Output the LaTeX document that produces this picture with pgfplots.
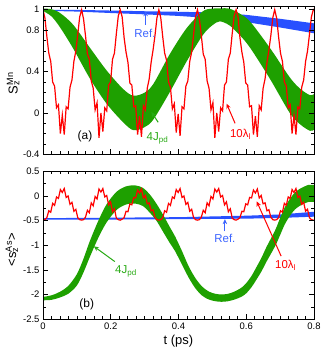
\documentclass[border=0pt]{standalone}
\usepackage{pgfplots}
\pgfplotsset{compat=1.18}
\usepgfplotslibrary{fillbetween}
\usepackage{pgfplotstable}
\usetikzlibrary{arrows.meta}
\usepackage{fontspec}
\setmainfont{Liberation Sans}
\setsansfont{Liberation Sans}
\definecolor{rred}{RGB}{255,0,0}
\definecolor{rgreen}{RGB}{30,160,0}
\definecolor{rblue}{RGB}{40,80,255}
\definecolor{lblue}{RGB}{60,100,255}
\definecolor{lgreen}{RGB}{40,170,20}

% red curves: t, top panel (a), bottom panel (b)
\pgfplotstableread{
t a b
0 1.00 -0.49
0.0057 0.92 -0.48
0.0114 0.74 -0.44
0.0171 0.58 -0.30
0.0228 0.50 -0.33
0.0285 0.30 -0.15
0.0342 0.26 -0.19
0.0399 0.05 -0.02
0.0456 0.08 -0.05
0.0513 -0.20 0.13
0.057 -0.02 0.07
0.0627 -0.21 0.15
0.0684 0.06 -0.03
0.0741 0.04 0.00
0.0798 0.25 -0.17
0.0855 0.32 -0.13
0.0912 0.50 -0.31
0.0969 0.60 -0.27
0.1026 0.76 -0.44
0.1083 0.93 -0.48
0.114 1.00 -0.49
0.1197 0.91 -0.48
0.1254 0.75 -0.43
0.1311 0.57 -0.29
0.1368 0.52 -0.34
0.1425 0.31 -0.14
0.1482 0.24 -0.20
0.1539 0.03 -0.01
0.1596 0.10 -0.06
0.1653 -0.24 0.14
0.171 0.00 0.08
0.1767 -0.18 0.15
0.1824 0.05 -0.02
0.1881 0.02 0.01
0.1938 0.27 -0.18
0.1995 0.30 -0.12
0.2052 0.52 -0.32
0.2109 0.58 -0.26
0.2166 0.77 -0.45
0.2223 0.94 -0.48
0.228 1.00 -0.49
0.2337 0.93 -0.47
0.2394 0.73 -0.44
0.2451 0.59 -0.31
0.2508 0.49 -0.32
0.2565 0.29 -0.16
0.2622 0.27 -0.18
0.2679 0.06 -0.03
0.2736 0.07 -0.04
0.2793 -0.21 0.12
0.285 -0.03 0.06
0.2907 -0.23 0.14
0.2964 0.07 -0.04
0.3021 0.03 0.01
0.3078 0.24 -0.16
0.3135 0.33 -0.14
0.3192 0.49 -0.30
0.3249 0.61 -0.28
0.3306 0.75 -0.43
0.3363 0.92 -0.48
0.342 1.00 -0.49
0.3477 0.92 -0.48
0.3534 0.74 -0.44
0.3591 0.58 -0.30
0.3648 0.51 -0.33
0.3705 0.30 -0.15
0.3762 0.25 -0.19
0.3819 0.04 -0.02
0.3876 0.09 -0.05
0.3933 -0.19 0.13
0.399 -0.01 0.07
0.4047 -0.22 0.15
0.4104 0.06 -0.03
0.4161 0.04 0.00
0.4218 0.26 -0.17
0.4275 0.31 -0.13
0.4332 0.50 -0.31
0.4389 0.59 -0.27
0.4446 0.76 -0.44
0.4503 0.93 -0.48
0.456 1.00 -0.49
0.4617 0.91 -0.48
0.4674 0.75 -0.43
0.4731 0.57 -0.29
0.4788 0.52 -0.34
0.4845 0.31 -0.14
0.4902 0.24 -0.20
0.4959 0.03 -0.01
0.5016 0.10 -0.06
0.5073 -0.24 0.14
0.513 0.00 0.08
0.5187 -0.18 0.15
0.5244 0.05 -0.02
0.5301 0.02 0.01
0.5358 0.27 -0.18
0.5415 0.30 -0.12
0.5472 0.52 -0.32
0.5529 0.58 -0.26
0.5586 0.77 -0.45
0.5643 0.94 -0.48
0.57 1.00 -0.49
0.5757 0.93 -0.47
0.5814 0.73 -0.44
0.5871 0.59 -0.31
0.5928 0.49 -0.32
0.5985 0.29 -0.16
0.6042 0.27 -0.18
0.6099 0.06 -0.03
0.6156 0.07 -0.04
0.6213 -0.21 0.12
0.627 -0.03 0.06
0.6327 -0.23 0.14
0.6384 0.07 -0.04
0.6441 0.03 0.01
0.6498 0.24 -0.16
0.6555 0.33 -0.14
0.6612 0.49 -0.30
0.6669 0.61 -0.28
0.6726 0.75 -0.43
0.6783 0.92 -0.48
0.684 1.00 -0.49
0.6897 0.92 -0.48
0.6954 0.74 -0.44
0.7011 0.58 -0.30
0.7068 0.50 -0.33
0.7125 0.30 -0.15
0.7182 0.26 -0.19
0.7239 0.05 -0.02
0.7296 0.08 -0.05
0.7353 -0.20 0.13
0.741 -0.02 0.07
0.7467 -0.21 0.15
0.7524 0.06 -0.03
0.7581 0.04 0.00
0.7638 0.25 -0.17
0.7695 0.32 -0.13
0.7752 0.50 -0.31
0.7809 0.60 -0.27
0.7866 0.76 -0.44
0.7923 0.93 -0.48
0.798 1.00 -0.49
0.8 0.99 -0.49
}\redtab

% green band, top panel: t, upper, lower
\pgfplotstableread{
t up lo
0.000 1.0115 0.9885
0.025 1.0045 0.9355
0.050 0.969 0.831
0.089 0.855 0.625
0.139 0.6295 0.3305
0.188 0.411 0.089
0.237 0.231 -0.091
0.267 0.167 -0.167
0.300 0.197 -0.137
0.326 0.2825 -0.0625
0.375 0.574 0.206
0.424 0.821 0.499
0.472 0.985 0.755
0.500 1.0105 0.8495
0.522 1.013 0.887
0.550 1.0105 0.8495
0.580 0.9635 0.7565
0.611 0.8865 0.6335
0.670 0.6295 0.3305
0.729 0.3425 -0.0025
0.760 0.2325 -0.1125
0.788 0.1725 -0.1725
0.800 0.1825 -0.1625
}\greentop

% green band, bottom panel
\pgfplotstableread{
t up lo
0.000 -2.0455 -2.1145
0.025 -2.014 -2.106
0.050 -1.9425 -2.0575
0.075 -1.8195 -1.9805
0.100 -1.585 -1.815
0.119 -1.282 -1.558
0.138 -0.919 -1.241
0.163 -0.5075 -0.8525
0.187 -0.176 -0.544
0.217 0.084 -0.284
0.245 0.194 -0.174
0.272 0.214 -0.154
0.295 0.164 -0.204
0.316 0.024 -0.344
0.335 -0.1575 -0.5025
0.355 -0.3875 -0.7325
0.375 -0.639 -0.961
0.390 -0.8205 -1.1195
0.410 -1.112 -1.388
0.430 -1.425 -1.655
0.450 -1.6665 -1.8735
0.470 -1.838 -2.022
0.490 -1.9395 -2.1005
0.510 -1.985 -2.135
0.527 -1.995 -2.145
0.545 -1.985 -2.135
0.565 -1.9395 -2.1005
0.586 -1.858 -2.042
0.600 -1.7665 -1.9735
0.616 -1.615 -1.845
0.630 -1.4435 -1.6965
0.645 -1.252 -1.528
0.660 -1.0305 -1.3295
0.685 -0.699 -1.021
0.700 -0.4475 -0.7925
0.714 -0.2275 -0.5725
0.730 -0.0475 -0.3925
0.744 0.0725 -0.2725
0.760 0.1525 -0.1925
0.783 0.2225 -0.1225
0.800 0.2225 -0.1225
}\greenbot

% blue (Ref.) bands
\pgfplotstableread{
t up lo
0.0 1.000 0.990
0.1 0.998 0.982
0.2 0.992 0.968
0.3 0.985 0.955
0.4 0.980 0.940
0.5 0.973 0.917
0.6 0.950 0.880
0.7 0.912 0.828
0.8 0.868 0.772
}\bluetop

\pgfplotstableread{
t up lo
0.0 -0.450 -0.480
0.2 -0.440 -0.478
0.4 -0.430 -0.470
0.6 -0.400 -0.460
0.7 -0.375 -0.445
0.8 -0.320 -0.420
}\bluebot

\pgfplotsset{
  myax/.style={
    scale only axis, width=271bp, height=148bp,
    xmin=0, xmax=0.8,
    tick align=inside, xtick pos=both, ytick pos=both,
    xticklabel pos=lower, yticklabel pos=left,
    major tick length=5bp, minor tick length=3bp,
    xtick={0,0.2,0.4,0.6,0.8}, minor x tick num=7,
    axis line style={line width=0.8bp},
    every tick/.style={black, line width=0.6bp},
    /pgf/number format/assume math mode=true,
    ticklabel style={font=\fontsize{9.5}{10}\selectfont},
    label style={font=\fontsize{13}{15}\selectfont},
    axis on top,
  },
}
\tikzset{
  annot/.style={font=\fontsize{11.5}{13}\selectfont},
  arr/.style={line width=1bp, -{Stealth[length=5bp,width=4.5bp]}},
}

\begin{document}
\begin{tikzpicture}
\begin{axis}[myax, at={(0,0)}, anchor=north west,
  ymin=-0.4, ymax=1.033,
  ytick={-0.4,0,0.4,0.8,1},
  minor ytick={-0.3,-0.2,-0.1,0.1,0.2,0.3,0.5,0.6,0.7,0.9},
  xticklabel=\empty,
  ylabel={S\rlap{\textsubscript{z}}\textsuperscript{Mn}},
  ylabel style={at={(axis description cs:-0.11,0.48)}, anchor=center},
]
\addplot[draw=none, name path=bu] table[x=t, y=up] {\bluetop};
\addplot[draw=none, name path=bl] table[x=t, y=lo] {\bluetop};
\addplot[rblue, fill=rblue] fill between[of=bu and bl];
\addplot[draw=none, smooth, name path=gu] table[x=t, y=up] {\greentop};
\addplot[draw=none, smooth, name path=gl] table[x=t, y=lo] {\greentop};
\addplot[rgreen, fill=rgreen] fill between[of=gu and gl];
\addplot[rred, line width=1.2bp] table[x=t, y=a] {\redtab};
\node[font=\fontsize{12}{14}\selectfont] at (axis cs:0.124,-0.23) {(a)};
\node[annot, text=lblue] at (axis cs:0.301,0.77) {Ref.};
\draw[arr, lblue] (axis cs:0.303,0.855) -- (axis cs:0.303,0.985);
\node[annot, text=lgreen] at (axis cs:0.338,-0.245) {4J\textsubscript{pd}};
\draw[arr, lgreen] (axis cs:0.340,-0.09) -- (axis cs:0.320,0.01);
\node[annot, text=rred] at (axis cs:0.583,-0.21) {10λ\textsubscript{l}};
\draw[arr, rred] (axis cs:0.567,-0.10) -- (axis cs:0.542,0.09);
\end{axis}

\begin{axis}[myax, at={(0,-165bp)}, anchor=north west,
  ymin=-2.5, ymax=0.5,
  ytick={-2.5,-2,-1.5,-1,-0.5,0,0.5},
  minor y tick num=1,
  xlabel={t (ps)},
  xlabel style={at={(axis description cs:0.5,0)}, anchor=center, yshift=-22bp},
  ylabel={<s\rlap{\textsubscript{z}}\textsuperscript{As}>},
  ylabel style={at={(axis description cs:-0.115,0.47)}, anchor=center},
]
\addplot[draw=none, name path=cu] table[x=t, y=up] {\bluebot};
\addplot[draw=none, name path=cl] table[x=t, y=lo] {\bluebot};
\addplot[rblue, fill=rblue] fill between[of=cu and cl];
\addplot[rred, line width=1.2bp] table[x=t, y=b] {\redtab};
\addplot[draw=none, smooth, name path=hu] table[x=t, y=up] {\greenbot};
\addplot[draw=none, smooth, name path=hl] table[x=t, y=lo] {\greenbot};
\addplot[rgreen, fill=rgreen] fill between[of=hu and hl];
\node[font=\fontsize{12}{14}\selectfont] at (axis cs:0.129,-2.19) {(b)};
\node[annot, text=lgreen] at (axis cs:0.245,-1.53) {4J\textsubscript{pd}};
\draw[arr, lgreen] (axis cs:0.212,-1.33) -- (axis cs:0.150,-1.02);
\node[annot, text=lblue] at (axis cs:0.537,-0.86) {Ref.};
\draw[arr, lblue] (axis cs:0.537,-0.72) -- (axis cs:0.537,-0.47);
\node[annot, text=rred] at (axis cs:0.716,-1.40) {10λ\textsubscript{l}};
\draw[arr, rred] (axis cs:0.703,-1.22) -- (axis cs:0.631,-0.11);
\end{axis}
\pgfresetboundingbox
\path (-43bp,6.3bp) rectangle (279bp,-348.7bp);
\end{tikzpicture}
\end{document}
